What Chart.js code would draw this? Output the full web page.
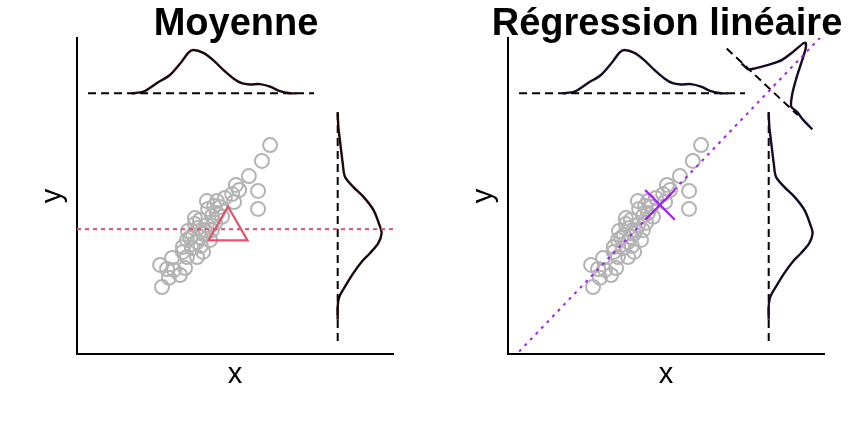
<!DOCTYPE html>
<html><head>
<meta charset="utf-8">
<title>Moyenne / Régression linéaire</title>
<script src="https://cdn.jsdelivr.net/npm/chart.js@4"></script>
<style>
body{margin:0;background:#fff;width:864px;height:432px;position:relative;overflow:hidden}
canvas{position:absolute;top:0}
#c1{left:0}
#c2{left:431px}
</style>
</head><body>
<canvas id="c1" width="432" height="432"></canvas>
<canvas id="c2" width="432" height="432"></canvas>
<script>
// panel texts
const panelTitles = ['Moyenne', 'Régression linéaire'];
const xLabel = 'x';
const yLabel = 'y';

// observations (same in both panels)
const ptsX = [6.11, 5.85, 5.44, 5.73, 5.73, 5.03, 5.13, 4.91, 4.97, 4.68, 4.43, 4.11, 4.53, 4.15, 4.27,
  4.43, 4.59, 3.73, 3.89, 4.11, 4.37, 4.05, 4.27, 3.51, 3.67, 3.99, 3.83, 3.48, 3.80, 4.21,
  3.35, 3.64, 3.99, 3.48, 3.80, 3.01, 2.63, 2.85, 3.07, 3.42, 3.26, 2.91, 2.69, 3.58, 3.89,
  3.73, 3.35, 4.34, 3.92];
const ptsY = [6.61, 6.11, 5.63, 5.16, 4.59, 5.35, 5.19, 5.06, 4.81, 4.94, 4.84, 4.84, 4.65, 4.59, 4.37,
  4.46, 4.34, 4.30, 4.24, 4.08, 4.15, 3.92, 3.92, 3.89, 3.77, 3.80, 3.99, 3.61, 3.54, 3.61,
  3.39, 3.35, 3.23, 3.07, 3.07, 3.04, 2.82, 2.69, 2.66, 2.72, 2.50, 2.41, 2.12, 3.67, 3.70,
  4.11, 3.23, 4.68, 3.42];

// marginal density of x (drawn above the cloud)
const topDensX = [1.73, 2.10, 2.52, 2.94, 3.31, 3.52, 3.68, 4.00, 4.31, 4.63, 4.95, 5.21, 5.47, 5.79, 6.11, 6.42, 6.74, 6.95];
const topDensY = [8.25, 8.30, 8.57, 8.83, 9.25, 9.53, 9.62, 9.53, 9.30, 8.99, 8.72, 8.57, 8.53, 8.54, 8.46, 8.32, 8.25, 8.25];

// marginal density of y (drawn right of the cloud)
const sideDensX = [8.25, 8.27, 8.32, 8.41, 8.48, 8.74, 9.06, 9.38, 9.59, 9.64, 9.53, 9.27, 9.01, 8.74, 8.48, 8.30, 8.25, 8.25];
const sideDensY = [7.64, 7.19, 6.77, 6.03, 5.61, 5.29, 4.98, 4.56, 4.03, 3.82, 3.50, 3.19, 2.92, 2.55, 2.13, 1.81, 1.50, 1.08];

// baselines of the marginal densities
const hGuideX = [0.35, 7.5];
const hGuideY = [8.25, 8.25];
const vGuideX = [8.25, 8.25];
const vGuideY = [7.66, 0.35];

// mean
const meanX = [4.78];
const meanY = [3.95];
const meanLineX = [0, 10];
const meanLineY = [3.95, 3.95];

// regression
const regLineX = [0, 10];
const regLineY = [-0.29, 10.14];
const predX = [4.81];
const predY = [4.72];

// density of residuals, along the line perpendicular to the fit
const perpLineX = [6.92, 9.17];
const perpLineY = [9.67, 7.56];
const resDensX = [7.39, 7.60, 7.82, 8.24, 8.66, 9.03, 9.34, 9.42, 9.42, 9.31, 9.14, 9.00, 8.96, 9.14, 9.34, 9.63];
const resDensY = [9.20, 9.01, 9.04, 9.15, 9.30, 9.57, 9.83, 9.85, 9.67, 9.30, 8.78, 8.25, 7.83, 7.67, 7.41, 7.11];

const RED = '#DF536B';
const PURPLE = '#A020F0';
const GREY = '#B3B3B3';

const zip = (xs, ys) => xs.map((x, i) => ({x, y: ys[i]}));

function line(xs, ys, color, width, dash, order, tension = 0) {
  return {
    data: zip(xs, ys), showLine: true, borderColor: color, borderWidth: width,
    borderDash: dash, pointRadius: 0, tension, order, fill: false
  };
}

const cloud = () => ({
  data: zip(ptsX, ptsY), pointStyle: 'circle', pointRadius: 7, pointBorderWidth: 2,
  pointBorderColor: GREY, pointBackgroundColor: 'rgba(0,0,0,0)', order: 10
});

// draws title and axis labels like base R graphics
const panelText = {
  id: 'panelText',
  afterDraw(chart, args, opts) {
    const {ctx, chartArea: a} = chart;
    const cx = (a.left + a.right) / 2;
    ctx.save();
    ctx.fillStyle = '#000';
    ctx.textAlign = 'center';
    ctx.textBaseline = 'alphabetic';
    ctx.font = 'bold 38px "Liberation Sans", Arial, sans-serif';
    ctx.fillText(opts.title, cx + 1, 35);
    ctx.font = '29px "Liberation Sans", Arial, sans-serif';
    ctx.fillText(opts.xlab, cx, a.bottom + 29);
    ctx.translate(a.left - 16, (a.top + a.bottom) / 2);
    ctx.rotate(-Math.PI / 2);
    ctx.fillText(opts.ylab, 0, 0);
    ctx.restore();
  }
};

function axis() {
  return {
    type: 'linear', min: 0, max: 10,
    ticks: {display: false},
    grid: {display: false, drawTicks: false},
    border: {display: true, color: '#000', width: 2}
  };
}

function makeChart(id, title, datasets) {
  return new Chart(document.getElementById(id), {
    type: 'scatter',
    data: {datasets},
    options: {
      responsive: false,
      animation: false,
      devicePixelRatio: 1,
      layout: {padding: {left: 77, right: 39, top: 38, bottom: 78}},
      scales: {x: axis(), y: axis()},
      plugins: {
        legend: {display: false},
        tooltip: {enabled: false},
        panelText: {title, xlab: xLabel, ylab: yLabel}
      }
    },
    plugins: [panelText]
  });
}

makeChart('c1', panelTitles[0], [
  cloud(),
  line(hGuideX, hGuideY, '#000', 2, [8, 5], 6),
  line(vGuideX, vGuideY, '#000', 2, [8, 5], 6),
  line(topDensX, topDensY, '#1c0707', 2.4, [], 5, 0.3),
  line(sideDensX, sideDensY, '#1c0707', 2.4, [], 5, 0.3),
  line(meanLineX, meanLineY, RED, 2, [4, 4], 3),
  {data: zip(meanX, meanY), pointStyle: 'triangle', pointRadius: 22.5, pointBorderWidth: 2.2,
    pointBorderColor: RED, pointBackgroundColor: 'rgba(0,0,0,0)', order: 1}
]);

makeChart('c2', panelTitles[1], [
  cloud(),
  line(hGuideX, hGuideY, '#000', 2, [8, 5], 6),
  line(vGuideX, vGuideY, '#000', 2, [8, 5], 6),
  line(perpLineX, perpLineY, '#000', 2, [8, 5], 6),
  line(topDensX, topDensY, '#160a24', 2.4, [], 5, 0.3),
  line(sideDensX, sideDensY, '#160a24', 2.4, [], 5, 0.3),
  line(resDensX, resDensY, '#160a24', 2.4, [], 5, 0.2),
  line(regLineX, regLineY, PURPLE, 2, [3, 5], 3),
  {data: zip(predX, predY), pointStyle: 'crossRot', pointRadius: 21, pointBorderWidth: 2.2,
    pointBorderColor: PURPLE, pointBackgroundColor: 'rgba(0,0,0,0)', order: 1}
]);
</script>
</body></html>
